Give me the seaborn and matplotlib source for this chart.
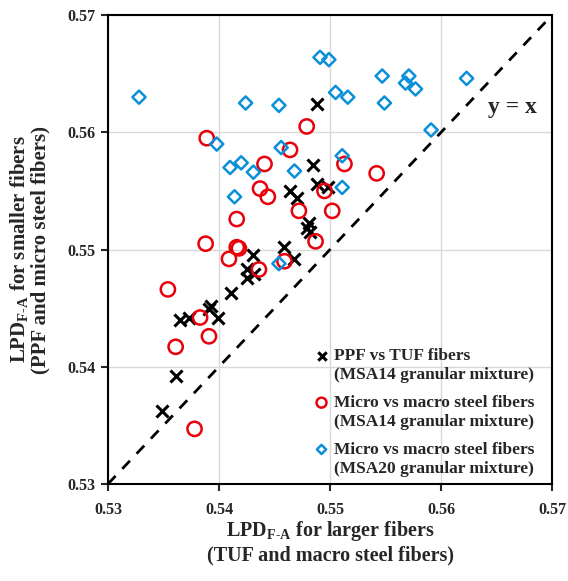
import matplotlib
matplotlib.use('Agg')
import matplotlib.pyplot as plt
import seaborn as sns
import pandas as pd

# PPF vs TUF fibers (MSA14)
ppf_x = [0.5488, 0.5485, 0.5488, 0.5498, 0.5464, 0.5470, 0.5481, 0.5479, 0.5482,
         0.5459, 0.5468, 0.5431, 0.5425, 0.5432, 0.5425, 0.5411, 0.5393, 0.5391,
         0.5399, 0.5365, 0.5373, 0.5361, 0.5349]
ppf_y = [0.5624, 0.5572, 0.5556, 0.5553, 0.5550, 0.5544, 0.5523, 0.5518, 0.5515,
         0.5502, 0.5492, 0.5495, 0.5483, 0.5479, 0.5476, 0.5463, 0.5452, 0.5449,
         0.5442, 0.5440, 0.5442, 0.5392, 0.5362]

# Micro vs macro steel fibers (MSA14)
m14_x = [0.5389, 0.5479, 0.5464, 0.5441, 0.5513, 0.5437, 0.5444, 0.5495, 0.5542,
         0.5472, 0.5502, 0.5416, 0.5487, 0.5388, 0.5416, 0.5418, 0.5409, 0.5459,
         0.5436, 0.5354, 0.5383, 0.5391, 0.5361, 0.5378]
m14_y = [0.5595, 0.5605, 0.5585, 0.5573, 0.5573, 0.5552, 0.5545, 0.5550, 0.5565,
         0.5533, 0.5533, 0.5526, 0.5507, 0.5505, 0.5502, 0.5501, 0.5492, 0.5490,
         0.5483, 0.5466, 0.5442, 0.5426, 0.5417, 0.5347]

# Micro vs macro steel fibers (MSA20)
m20_x = [0.5328, 0.5424, 0.5454, 0.5491, 0.5499, 0.5505, 0.5516, 0.5547, 0.5549,
         0.5571, 0.5568, 0.5577, 0.5623, 0.5591, 0.5398, 0.5456, 0.5410, 0.5420,
         0.5431, 0.5468, 0.5414, 0.5511, 0.5511, 0.5454]
m20_y = [0.5630, 0.5625, 0.5623, 0.5664, 0.5662, 0.5634, 0.5630, 0.5648, 0.5625,
         0.5648, 0.5642, 0.5637, 0.5646, 0.5602, 0.5590, 0.5587, 0.5570, 0.5574,
         0.5566, 0.5567, 0.5545, 0.5580, 0.5553, 0.5488]

labels = ['PPF vs TUF fibers\n(MSA14 granular mixture)',
          'Micro vs macro steel fibers\n(MSA14 granular mixture)',
          'Micro vs macro steel fibers\n(MSA20 granular mixture)']
ticks = [0.53, 0.54, 0.55, 0.56, 0.57]

sns.set_style('white')
plt.rcParams['font.family'] = ['Liberation Serif', 'DejaVu Serif']
plt.rcParams['font.weight'] = 'bold'
plt.rcParams['mathtext.fontset'] = 'custom'
plt.rcParams['mathtext.rm'] = 'Liberation Serif:bold'
plt.rcParams['mathtext.bf'] = 'Liberation Serif:bold'

df = pd.concat([
    pd.DataFrame({'x': ppf_x, 'y': ppf_y, 'set': labels[0]}),
    pd.DataFrame({'x': m14_x, 'y': m14_y, 'set': labels[1]}),
    pd.DataFrame({'x': m20_x, 'y': m20_y, 'set': labels[2]}),
])

fig = plt.figure(figsize=(5.68, 5.81), dpi=100)
ax = fig.add_axes([0.190, 0.167, 0.782, 0.807])

styles = {
    labels[0]: dict(marker='x', s=75, color='black', linewidth=2.2),
    labels[1]: dict(marker='o', s=105, facecolor='none', edgecolor='#e8000b', linewidth=1.8),
    labels[2]: dict(marker='D', s=45, facecolor='none', edgecolor='#0a90d8', linewidth=1.8),
}
for lab in labels:
    sub = df[df['set'] == lab]
    sns.scatterplot(data=sub, x='x', y='y', ax=ax, label=lab, zorder=3, **styles[lab])

ax.plot(ticks, ticks, color='black', linestyle=(0, (4, 3.5)), linewidth=2, zorder=2)
ax.text(0.5642, 0.5621, 'y = x', fontsize=17, fontweight='bold', va='center')

ax.set_xlim(0.53, 0.57)
ax.set_ylim(0.53, 0.57)
ax.set_xticks(ticks)
ax.set_yticks(ticks)
ax.set_xticklabels([f'{t:.2f}' for t in ticks], fontsize=11.5, fontweight='bold')
ax.set_yticklabels([f'{t:.2f}' for t in ticks], fontsize=11.5, fontweight='bold')
ax.tick_params(direction='out', length=5, width=1.5, left=True, bottom=True)
ax.tick_params(axis='x', pad=8)
ax.tick_params(axis='y', pad=4)
ax.grid(True, color='#d9d9d9', linewidth=1)
for sp in ax.spines.values():
    sp.set_color('black')
    sp.set_linewidth(1.5)

ax.set_xlabel('LPD$_{\\mathbf{F\\text{-}A}}$ for larger fibers\n(TUF and macro steel fibers)',
              fontsize=14.5, fontweight='bold', labelpad=1, linespacing=1.15)
ax.set_ylabel('LPD$_{\\mathbf{F\\text{-}A}}$ for smaller fibers\n(PPF and micro steel fibers)',
              fontsize=15, fontweight='bold', labelpad=12, linespacing=1.0)

leg = ax.legend(loc='lower right', frameon=False, fontsize=12.5, handletextpad=0.2,
                borderaxespad=0.0, labelspacing=0.68, handlelength=1.0, handleheight=1.0,
                markerscale=0.7, bbox_to_anchor=(0.975, 0.001))
for t in leg.get_texts():
    t.set_fontweight('bold')
    t.set_linespacing(1.25)
# put each marker beside the first line of its label
for col in leg._legend_handle_box.get_children():
    for row in col.get_children():
        row.align = 'top'

fig.savefig('out.png', dpi=100)
